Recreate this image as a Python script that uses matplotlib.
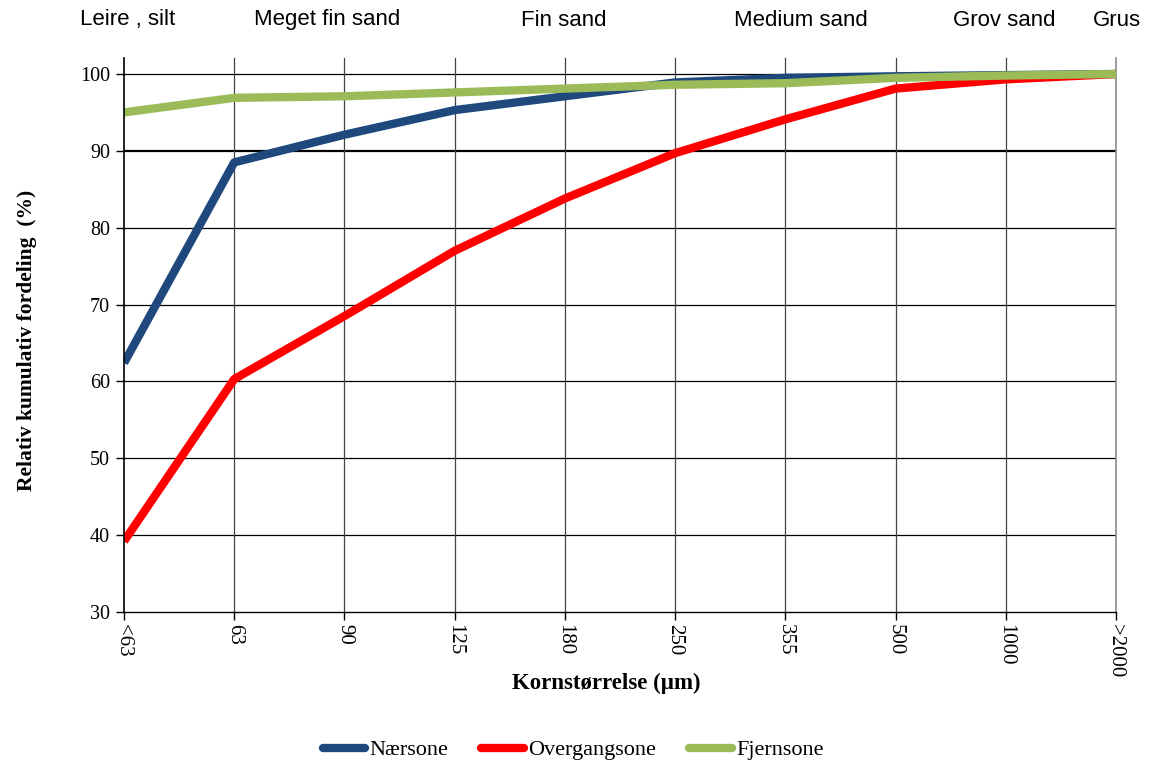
import matplotlib.pyplot as plt

sizes = ["<63", "63", "90", "125", "180", "250", "355", "500", "1000", ">2000"]
naersone = [62.4, 88.5, 92.1, 95.3, 97.1, 98.9, 99.5, 99.7, 99.85, 100.0]
overgangsone = [39.2, 60.3, 68.5, 77.0, 83.8, 89.7, 94.1, 98.1, 99.3, 100.0]
fjernsone = [95.0, 96.9, 97.1, 97.6, 98.1, 98.6, 98.8, 99.5, 99.8, 100.0]

fractions = ["Leire , silt", "Meget fin sand", "Fin sand", "Medium sand", "Grov sand", "Grus"]
fraction_x = [128, 327, 564, 801, 1004, 1117]

serif = ["Liberation Serif", "DejaVu Serif"]
sans = ["Liberation Sans Narrow", "Liberation Sans", "DejaVu Sans"]

fig = plt.figure(figsize=(11.49, 7.66), dpi=100)
ax = fig.add_axes([124 / 1149, 1 - 612 / 766, (1116 - 124) / 1149, (612 - 58) / 766])

x = list(range(len(sizes)))
ax.plot(x, naersone, color="#1F497D", lw=6, label="Nærsone", solid_capstyle="butt")
ax.plot(x, overgangsone, color="#FF0000", lw=6, label="Overgangsone", solid_capstyle="butt")
ax.plot(x, fjernsone, color="#9BBB59", lw=6, label="Fjernsone", solid_capstyle="butt")

ax.set_xlim(0, len(sizes) - 1)
ax.set_ylim(30, 102.08)
ax.set_yticks(range(30, 101, 10))
ax.set_xticks(x)
ax.set_xticklabels(sizes, rotation=-90, family=serif, fontsize=15)
ax.set_yticklabels([str(v) for v in range(30, 101, 10)], family=serif, fontsize=14.5)
ax.tick_params(axis="both", direction="out", length=6, width=1, color="black")
ax.tick_params(axis="x", pad=3)
ax.tick_params(axis="y", pad=4)

# grid
for v in range(40, 101, 10):
    ax.axhline(v, color="black", lw=1.6 if v == 90 else 0.9, zorder=0)
for xi in x[1:]:
    last = xi == x[-1]
    ax.axvline(xi, color="#8a8a8a" if last else "#444444", lw=1.2 if last else 0.9,
               zorder=0, clip_on=False)

for side in ["top", "right"]:
    ax.spines[side].set_visible(False)
ax.spines["left"].set_linewidth(1.2)
ax.spines["bottom"].set_linewidth(1)

ax.set_ylabel("Relativ kumulativ fordeling  (%)", family=serif, fontsize=15.5,
              fontweight="bold")
ax.yaxis.set_label_coords(-(124 - 37) / 992, 0.49)
ax.set_xlabel("Kornstørrelse (µm)", family=serif, fontsize=16.5, fontweight="bold")
ax.xaxis.set_label_coords((606 - 124) / 992, -(683 - 612) / 554)
ax.xaxis.label.set_va("center")

for name, px in zip(fractions, fraction_x):
    fig.text(px / 1149, 1 - 20 / 766, name, ha="center", va="center",
             family=sans, fontsize=16)

leg = fig.legend(loc="center", bbox_to_anchor=(573 / 1149, 1 - 750 / 766), ncol=3,
                 frameon=False, prop={"family": serif, "size": 16}, handlelength=1.9,
                 handletextpad=0.2, columnspacing=1.5)
for line in leg.get_lines():
    line.set_solid_capstyle("round")

fig.savefig("out.png", dpi=100)
